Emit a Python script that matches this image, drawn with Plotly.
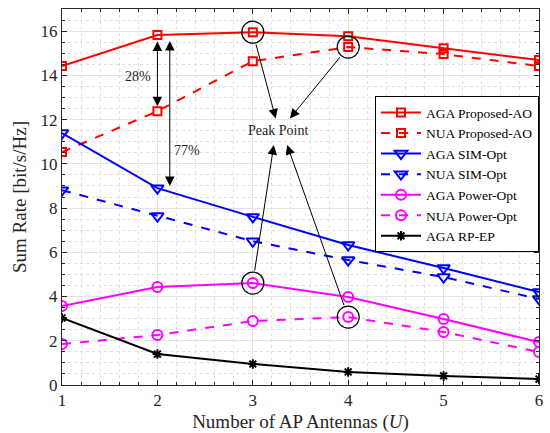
import plotly.graph_objects as go

antennas = [1, 2, 3, 4, 5, 6]
aga_prop = [14.42, 15.82, 15.95, 15.77, 15.23, 14.69]
nua_prop = [10.53, 12.38, 14.64, 15.28, 14.96, 14.42]
aga_sim = [11.39, 8.90, 7.60, 6.33, 5.29, 4.20]
nua_sim = [8.81, 7.64, 6.50, 5.65, 4.88, 3.89]
aga_pow = [3.57, 4.43, 4.61, 3.98, 2.98, 1.94]
nua_pow = [1.85, 2.26, 2.89, 3.07, 2.40, 1.49]
aga_rp = [3.03, 1.40, 0.95, 0.59, 0.41, 0.27]

peak_x = [3, 4, 3, 4]
peak_y = [aga_prop[2], nua_prop[3], aga_pow[2], nua_pow[3]]

FONT = "Liberation Serif"
fig = go.Figure()

series = [
    ("AGA Proposed-AO", aga_prop, "red", "solid", "square-open", 8),
    ("NUA Proposed-AO", nua_prop, "red", "dash", "square-open", 8),
    ("AGA SIM-Opt", aga_sim, "blue", "solid", "triangle-down-open", 11),
    ("NUA SIM-Opt", nua_sim, "blue", "dash", "triangle-down-open", 11),
    ("AGA Power-Opt", aga_pow, "magenta", "solid", "circle-open", 10),
    ("NUA Power-Opt", nua_pow, "magenta", "dash", "circle-open", 10),
    ("AGA RP-EP", aga_rp, "black", "solid", "asterisk-open", 8),
]
for name, ys, col, dash, sym, sz in series:
    fig.add_trace(go.Scatter(
        x=antennas, y=ys, name=name, mode="lines+markers",
        line=dict(color=col, width=2, dash=dash),
        marker=dict(symbol=sym, size=sz, color=col, line=dict(color=col, width=2)),
    ))

fig.add_trace(go.Scatter(
    x=peak_x, y=peak_y, mode="markers", showlegend=False, hoverinfo="skip",
    marker=dict(symbol="circle-open", size=22, color="black", line=dict(color="black", width=1.2)),
))

ann = []
def arrow(xh, yh, xt, yt, both=False, start_off=0, stand=0):
    ann.append(dict(
        x=xh, y=yh, ax=xt, ay=yt, xref="x", yref="y", axref="x", ayref="y",
        text="", showarrow=True, arrowhead=2, arrowsize=1.9, arrowwidth=1,
        arrowcolor="black", arrowside="end+start" if both else "end",
        startstandoff=start_off, standoff=stand, startarrowhead=2, startarrowsize=1.9,
    ))

# peak point arrows
arrow(3.24, 12.05, 3, aga_prop[2], start_off=11)
arrow(3.39, 12.05, 4, nua_prop[3], start_off=11)
arrow(3.22, 10.85, 3, aga_pow[2], start_off=11)
arrow(3.36, 10.85, 4, nua_pow[3], start_off=11)
# gap arrows
arrow(2, nua_prop[1], 2, aga_prop[1], both=True, start_off=5, stand=5)
arrow(2.13, aga_sim[1] + 0.1, 2.13, aga_prop[1] - 0.2, both=True)

for txt, x, y in [("28%", 1.80, 13.95), ("77%", 2.31, 10.6), ("Peak Point", 3.26, 11.5)]:
    ann.append(dict(x=x, y=y, xref="x", yref="y", text=txt, showarrow=False,
                    font=dict(family=FONT, size=14, color="#262626")))

fig.update_layout(
    width=550, height=433,
    margin=dict(l=62, r=11, t=9, b=48),
    paper_bgcolor="white", plot_bgcolor="white",
    font=dict(family=FONT, size=17, color="#262626"),
    annotations=ann,
    legend=dict(
        x=1, y=0.768, xanchor="right", yanchor="top",
        bgcolor="white", bordercolor="black", borderwidth=1,
        font=dict(family=FONT, size=13.5, color="black"),
        tracegroupgap=0, itemwidth=40,
    ),
    showlegend=True,
)

axis_common = dict(
    showline=True, linecolor="#262626", linewidth=1, mirror="ticks",
    ticks="inside", ticklen=5, tickcolor="#262626",
    showgrid=True, gridcolor="#e3e3e3", gridwidth=1, zeroline=False,
    tickfont=dict(family=FONT, size=17, color="#262626"), automargin=False,
)
fig.update_xaxes(
    range=[1, 6], dtick=1, tick0=1,
    title=dict(text="Number of AP Antennas (<i>U</i>)", font=dict(family=FONT, size=19, color="#262626"), standoff=6),
    minor=dict(dtick=0.2, showgrid=True, griddash="dot", gridcolor="#e0e0e0", ticks="inside", ticklen=3, tickcolor="#262626"),
    **axis_common,
)
fig.update_yaxes(
    range=[0, 17], dtick=2, tick0=0,
    title=dict(text="Sum Rate [bit/s/Hz]", font=dict(family=FONT, size=19, color="#262626"), standoff=8),
    minor=dict(dtick=0.5, showgrid=True, griddash="dot", gridcolor="#e0e0e0", ticks="inside", ticklen=3, tickcolor="#262626"),
    **axis_common,
)

fig.write_html("out.html")
